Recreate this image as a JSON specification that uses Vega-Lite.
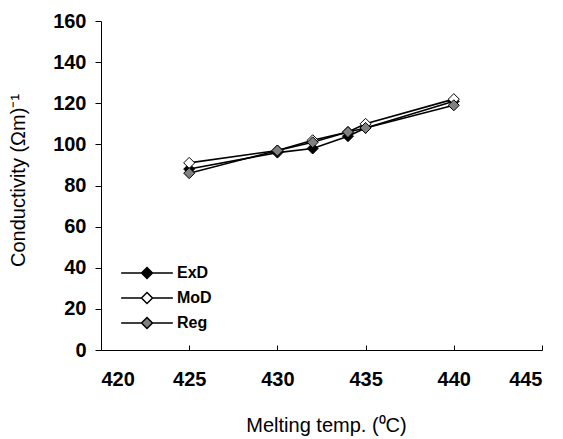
{
  "$schema": "https://vega.github.io/schema/vega-lite/v6.json",
  "autosize": "none",
  "width": 441,
  "height": 329,
  "padding": {"left": 101, "top": 21, "right": 21, "bottom": 89},
  "background": "white",
  "config": {
    "view": {"stroke": null},
    "font": "Liberation Sans",
    "axis": {"grid": false, "domainColor": "black", "tickColor": "black", "labelColor": "black", "titleColor": "black", "labelFont": "Liberation Sans", "titleFont": "Liberation Sans", "labelFontWeight": "bold", "labelFontSize": 20, "titleFontWeight": "normal", "titleFontSize": 20, "domainWidth": 1, "tickWidth": 1}
  },
  "data": {
    "values": [
      {"t": 425, "c": 88, "s": "ExD"},
      {"t": 430, "c": 96, "s": "ExD"},
      {"t": 432, "c": 98, "s": "ExD"},
      {"t": 434, "c": 104, "s": "ExD"},
      {"t": 435, "c": 108, "s": "ExD"},
      {"t": 440, "c": 121, "s": "ExD"},
      {"t": 425, "c": 91, "s": "MoD"},
      {"t": 430, "c": 97, "s": "MoD"},
      {"t": 432, "c": 102, "s": "MoD"},
      {"t": 434, "c": 106, "s": "MoD"},
      {"t": 435, "c": 110, "s": "MoD"},
      {"t": 440, "c": 122, "s": "MoD"},
      {"t": 425, "c": 86, "s": "Reg"},
      {"t": 430, "c": 97, "s": "Reg"},
      {"t": 432, "c": 101, "s": "Reg"},
      {"t": 434, "c": 106, "s": "Reg"},
      {"t": 435, "c": 108, "s": "Reg"},
      {"t": 440, "c": 119, "s": "Reg"}
    ]
  },
  "encoding": {
    "x": {"field": "t", "type": "quantitative", "scale": {"domain": [420, 445], "nice": false, "zero": false},
      "axis": {"values": [420, 425, 430, 435, 440, 445], "tickSize": -5, "labelPadding": 24, "title": "Melting temp. (⁰C)", "titleX": 225, "titleY": 75, "titleBaseline": "middle", "titleAnchor": null}},
    "y": {"field": "c", "type": "quantitative", "scale": {"domain": [0, 160], "nice": false},
      "axis": {"values": [0, 20, 40, 60, 80, 100, 120, 140, 160], "tickSize": 6, "labelPadding": 9, "title": "Conductivity (Ωm)⁻¹", "titleX": -83, "titleY": 159, "titleBaseline": "middle", "titleAngle": -90}}
  },
  "layer": [
    {
      "mark": {"type": "line", "color": "black", "strokeWidth": 1.6},
      "encoding": {"detail": {"field": "s"}}
    },
    {
      "mark": {"type": "point", "shape": "diamond", "filled": true, "size": 121, "stroke": "black", "strokeWidth": 1, "opacity": 1},
      "encoding": {
        "fill": {"field": "s", "type": "nominal",
          "scale": {"domain": ["ExD", "MoD", "Reg"], "range": ["black", "white", "#808080"]},
          "legend": {"title": null, "orient": "none", "legendX": 38, "legendY": 244,
            "symbolType": "M-4.7,0L-1,0M1,0L4.7,0M0,-1L1,0L0,1L-1,0Z", "symbolSize": 121,
            "symbolStrokeColor": "black", "symbolStrokeWidth": 1.5, "symbolOpacity": 1,
            "labelFont": "Liberation Sans", "labelFontWeight": "bold", "labelFontSize": 16, "labelColor": "black",
            "labelOffset": 22, "rowPadding": 7}
        }
      }
    }
  ]
}
